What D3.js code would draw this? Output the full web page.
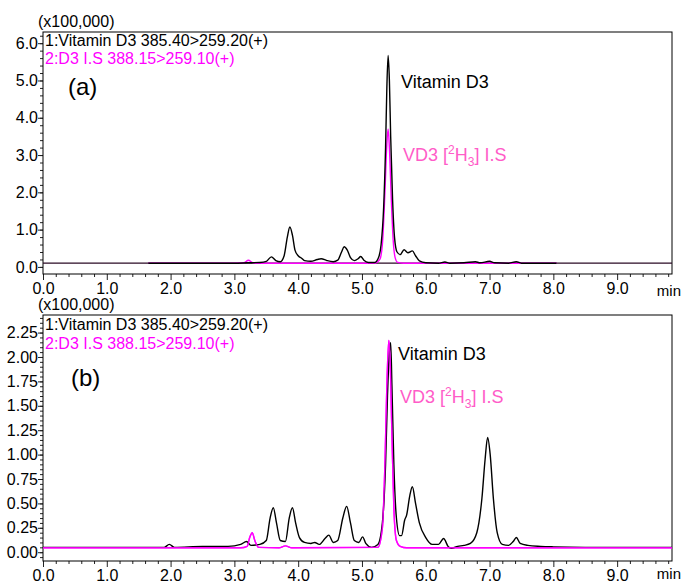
<!DOCTYPE html>
<html><head><meta charset="utf-8">
<script src="https://cdn.jsdelivr.net/npm/d3@7"></script>
<style>body{margin:0;background:#fff}svg{display:block}text{font-family:Arial,"Liberation Sans",sans-serif}</style>
</head><body><svg id="c" width="683" height="583"></svg>
<script>
// ---- data (time in min, intensity in x100,000) ----
const vd3A = [[1.65,0.10],[2.0,0.10],[2.5,0.10],[3.0,0.10],[3.2,0.11],[3.4,0.12],[3.5,0.15],[3.58,0.27],[3.65,0.17],[3.72,0.14],[3.78,0.30],[3.83,0.80],[3.87,1.07],[3.91,0.85],[3.95,0.45],[4.0,0.30],[4.05,0.24],[4.1,0.17],[4.2,0.15],[4.3,0.20],[4.36,0.22],[4.45,0.17],[4.55,0.14],[4.62,0.18],[4.68,0.40],[4.72,0.54],[4.77,0.45],[4.82,0.25],[4.88,0.17],[4.94,0.22],[4.98,0.28],[5.03,0.18],[5.1,0.12],[5.2,0.12],[5.26,0.25],[5.3,0.6],[5.34,1.6],[5.37,3.2],[5.39,4.8],[5.41,5.67],[5.43,5.0],[5.45,3.5],[5.48,1.8],[5.51,0.8],[5.55,0.40],[5.6,0.33],[5.66,0.46],[5.72,0.38],[5.79,0.43],[5.84,0.30],[5.9,0.16],[6.0,0.11],[6.2,0.10],[6.3,0.13],[6.38,0.10],[6.6,0.11],[6.78,0.14],[6.85,0.11],[7.0,0.15],[7.08,0.11],[7.3,0.10],[7.42,0.14],[7.5,0.10],[8.05,0.10]];
const isA = [[1.65,0.1],[3.0,0.1],[3.15,0.11],[3.22,0.18],[3.29,0.11],[3.4,0.1],[5.2,0.1],[5.28,0.2],[5.32,0.6],[5.36,2.0],[5.39,3.3],[5.41,3.70],[5.43,3.2],[5.46,1.8],[5.49,0.7],[5.52,0.25],[5.56,0.12],[5.65,0.1],[8.05,0.1]];
const vd3B = [[0,0.05],[1.0,0.05],[1.9,0.05],[1.98,0.08],[2.06,0.05],[2.5,0.06],[2.9,0.06],[3.1,0.08],[3.19,0.11],[3.26,0.07],[3.4,0.08],[3.5,0.12],[3.56,0.35],[3.61,0.455],[3.66,0.30],[3.72,0.12],[3.8,0.11],[3.86,0.35],[3.91,0.455],[3.96,0.30],[4.02,0.15],[4.1,0.10],[4.2,0.09],[4.26,0.10],[4.33,0.08],[4.42,0.14],[4.48,0.175],[4.55,0.10],[4.62,0.12],[4.7,0.35],[4.76,0.47],[4.82,0.30],[4.88,0.12],[4.95,0.10],[5.01,0.157],[5.06,0.09],[5.15,0.05],[5.25,0.08],[5.32,0.3],[5.37,0.9],[5.40,1.6],[5.43,2.05],[5.45,2.145],[5.47,1.7],[5.50,0.9],[5.54,0.35],[5.59,0.17],[5.62,0.17],[5.67,0.33],[5.70,0.38],[5.75,0.58],[5.79,0.67],[5.84,0.5],[5.9,0.3],[6.0,0.15],[6.1,0.08],[6.2,0.08],[6.28,0.14],[6.35,0.06],[6.4,0.04],[6.5,0.06],[6.6,0.07],[6.7,0.09],[6.8,0.20],[6.88,0.55],[6.93,0.95],[6.97,1.175],[7.01,1.0],[7.06,0.55],[7.12,0.2],[7.2,0.08],[7.3,0.07],[7.37,0.11],[7.42,0.15],[7.48,0.09],[7.6,0.07],[7.8,0.06],[8.0,0.055],[8.5,0.05],[9.0,0.05],[9.86,0.05]];
const isB = [[0,0.045],[3.1,0.045],[3.2,0.06],[3.24,0.15],[3.28,0.20],[3.32,0.12],[3.38,0.05],[3.7,0.045],[3.8,0.065],[3.9,0.045],[5.25,0.05],[5.32,0.25],[5.36,0.9],[5.39,1.7],[5.42,2.17],[5.44,2.0],[5.47,1.2],[5.50,0.45],[5.54,0.12],[5.6,0.06],[5.7,0.045],[9.86,0.045]];
const baselineA = 0.1;
const xTicks = [0,1,2,3,4,5,6,7,8,9];
const yTicksA = [0,1,2,3,4,5,6];
const yTicksB = [0,0.25,0.5,0.75,1.0,1.25,1.5,1.75,2.0,2.25];
const legend1 = "1:Vitamin D3 385.40>259.20(+)";
const legend2 = "2:D3 I.S 388.15>259.10(+)";

const svg = d3.select("#c");
const X0 = 43, X1 = 672;
const x = d3.scaleLinear().domain([0, 9.86]).range([X0, X1]);
const FONT = "Arial, Liberation Sans, sans-serif";

function panel(cfg){
  const y = d3.scaleLinear().domain(cfg.yDom).range([cfg.bottom, cfg.top]);
  const g = svg.append("g");
  const cid = "clip" + cfg.id;
  svg.append("clipPath").attr("id", cid).append("rect")
     .attr("x", X0).attr("y", cfg.top).attr("width", X1-X0).attr("height", cfg.bottom-cfg.top);
  // x axis
  const xMinor = d3.range(0, 9.86, 0.2).filter(v => Math.abs(v - Math.round(v)) > 1e-6);
  g.append("g").attr("transform", `translate(0,${cfg.bottom})`)
    .call(d3.axisBottom(x).tickValues(xMinor).tickSize(3).tickFormat(""))
    .call(s => s.select(".domain").remove());
  g.append("g").attr("transform", `translate(0,${cfg.bottom})`)
    .call(d3.axisBottom(x).tickValues(xTicks).tickSize(6).tickPadding(cfg.xPad).tickFormat(d3.format(".1f")))
    .call(s => s.select(".domain").remove())
    .call(s => s.selectAll("text").attr("font-size", 16).attr("fill", "#000").attr("font-family", FONT));
  svg.append("text").attr("x", 681).attr("y", cfg.minY).attr("text-anchor", "end")
     .attr("font-size", 15).text("min");
  // y axis
  const yMinor = d3.range(0, cfg.yDom[1], cfg.minor).concat(d3.range(-cfg.minor, cfg.yDom[0], -cfg.minor));
  g.append("g").attr("transform", `translate(${X0},0)`)
    .call(d3.axisLeft(y).tickValues(yMinor).tickSize(3).tickFormat(""))
    .call(s => s.select(".domain").remove());
  g.append("g").attr("transform", `translate(${X0},0)`)
    .call(d3.axisLeft(y).tickValues(cfg.yTicks).tickSize(5).tickPadding(0).tickFormat(d3.format(cfg.fmt)))
    .call(s => s.select(".domain").remove())
    .call(s => s.selectAll("text").attr("font-size", 16).attr("fill", "#000").attr("font-family", FONT));
  g.selectAll(".tick line").attr("stroke", "#222");
  // frame
  svg.append("rect").attr("x", X0).attr("y", cfg.top).attr("width", X1-X0).attr("height", cfg.bottom-cfg.top)
     .attr("fill", "none").attr("stroke", "#000").attr("stroke-width", 1);
  svg.append("text").attr("x", 38).attr("y", cfg.top - 5).attr("font-size", 16).text("(x100,000)");
  // traces
  const line = d3.line().x(d => x(d[0])).y(d => y(d[1])).curve(d3.curveMonotoneX);
  const tg = svg.append("g").attr("clip-path", `url(#${cid})`);
  if (cfg.base !== undefined) {
    tg.append("line").attr("x1", X0).attr("x2", X1).attr("y1", y(cfg.base)).attr("y2", y(cfg.base))
      .attr("stroke", "#2a0a25").attr("stroke-width", 1.2);
  }
  [[cfg.mag,"#ff00ff"],[cfg.black,"#000"]].forEach(([data, col]) => {
    tg.append("path").datum(data).attr("d", line).attr("fill", "none").attr("stroke", col).attr("stroke-width", 1.4);
  });
  if (cfg.magOver) {
    tg.append("path").datum(cfg.mag).attr("d", line).attr("fill", "none").attr("stroke", "#ff00ff").attr("stroke-width", 1.4)
      .attr("stroke-opacity", 0.9);
  }
  // legends
  svg.append("text").attr("x", 45).attr("y", cfg.top + cfg.l1).attr("font-size", 16).attr("fill", "#000").text(legend1);
  svg.append("text").attr("x", 45).attr("y", cfg.top + cfg.l2).attr("font-size", 16).attr("fill", "#ff00ff").text(legend2);
  svg.append("text").attr("x", cfg.tagX).attr("y", cfg.tagY).attr("font-size", 24).text(cfg.tag);
  // annotations
  svg.append("text").attr("x", cfg.ann1[0]).attr("y", cfg.ann1[1]).attr("font-size", 18).text("Vitamin D3");
  const t2 = svg.append("text").attr("x", cfg.ann2[0]).attr("y", cfg.ann2[1]).attr("font-size", 18).attr("fill", "#ff5cc8");
  t2.append("tspan").text("VD3 [");
  t2.append("tspan").attr("font-size", 12).attr("dy", -7).text("2");
  t2.append("tspan").attr("dy", 7).text("H");
  t2.append("tspan").attr("font-size", 12).attr("dy", 5).text("3");
  t2.append("tspan").attr("dy", -5).text("] I.S");
}

panel({id:"a", top:32, bottom:274, yDom:[-0.19, 6.3], yTicks:yTicksA, minor:0.2, fmt:".1f",
  black:vd3A, mag:isA, base:baselineA, tag:"(a)", tagX:68, tagY:95, l1:14, l2:32, xPad:3, minY:296,
  ann1:[401,88], ann2:[403,161]});
panel({id:"b", top:315, bottom:561, yDom:[-0.09, 2.43], yTicks:yTicksB, minor:0.05, fmt:".2f",
  black:vd3B, mag:isB, magOver:true, tag:"(b)", tagX:71, tagY:386, l1:15, l2:34, xPad:3, minY:579,
  ann1:[398,360], ann2:[400,403]});
</script></body></html>
